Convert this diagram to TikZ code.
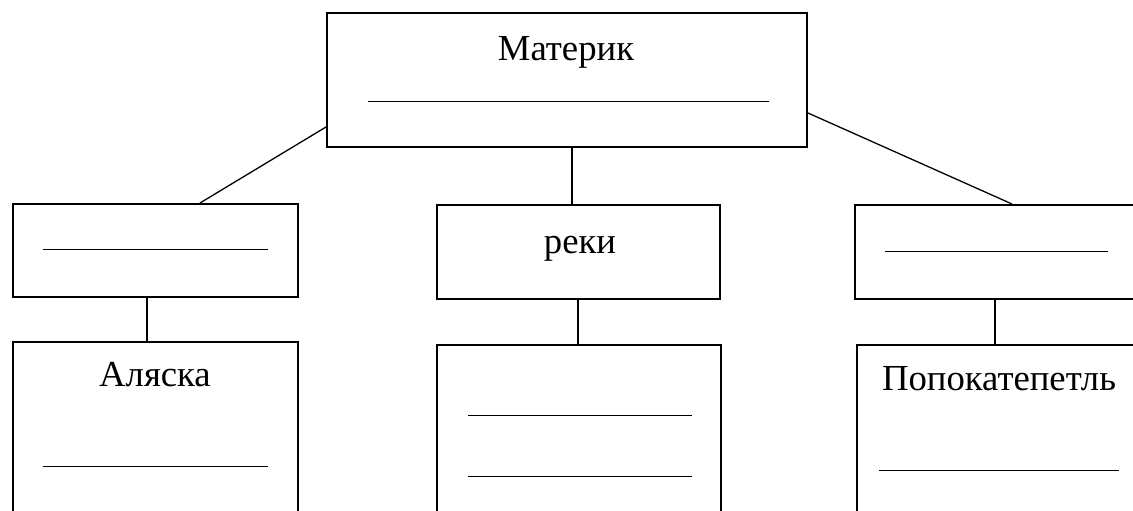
\documentclass[tikz,border=0pt]{standalone}
\usepackage{fontspec}
\setmainfont{Liberation Serif}
\begin{document}
\begin{tikzpicture}[x=1pt,y=-1pt,
  box/.style={draw,line width=2pt,rectangle,inner sep=0pt},
  conn/.style={line width=1.3pt},
  blank/.style={line width=1pt},
  lbl/.style={inner sep=0pt,anchor=base,font=\fontsize{36.7}{44}\selectfont}]
\useasboundingbox (0,0) rectangle (1133,511);
\clip (0,0) rectangle (1133,511);
% boxes
\node[box,minimum width=480pt,minimum height=134pt] (top) at (567,80) {};
\node[box,minimum width=285pt,minimum height=93pt] (left) at (155.5,250.5) {};
\node[box,minimum width=283pt,minimum height=94pt] (reki) at (578,252) {};
\node[box,minimum width=295pt,minimum height=94pt] (right) at (1002.5,252) {};
\node[box,minimum width=285pt,minimum height=218pt] (lowleft) at (155.5,451) {};
\node[box,minimum width=284pt,minimum height=215pt] (lowmid) at (579,452.5) {};
\node[box,minimum width=293pt,minimum height=215pt] (lowright) at (1003.5,452.5) {};
% labels
\node[lbl] (tMat) at (566,60) {Материк};
\node[lbl] (tRek) at (580,253) {реки};
\node[lbl] (tAla) at (155,386) {Аляска};
\node[lbl] (tPop) at (999,390) {Попокатепетль};
% blank lines
\draw[blank] (368,101) -- (769,101);
\draw[blank] (43,249) -- (268,249);
\draw[blank] (885,251) -- (1108,251);
\draw[blank] (43,466) -- (268,466);
\draw[blank] (468,415) -- (692,415);
\draw[blank] (468,476) -- (692,476);
\draw[blank] (879,470) -- (1119,470);
% connectors
\draw[conn] ([yshift=21pt]top.south west) -- ([xshift=44.5pt]left.north);
\draw[conn] ([yshift=-33pt]top.east) -- ([xshift=9.5pt]right.north);
\draw[conn] ([xshift=5pt]top.south) -- ([xshift=-6pt]reki.north);
\draw[conn] ([xshift=-8.5pt]left.south) -- ([xshift=-8.5pt]lowleft.north);
\draw[conn] (reki.south) -- ([xshift=-1pt]lowmid.north);
\draw[conn] ([xshift=-7.5pt]right.south) -- ([xshift=-8.5pt]lowright.north);
\end{tikzpicture}
\end{document}
